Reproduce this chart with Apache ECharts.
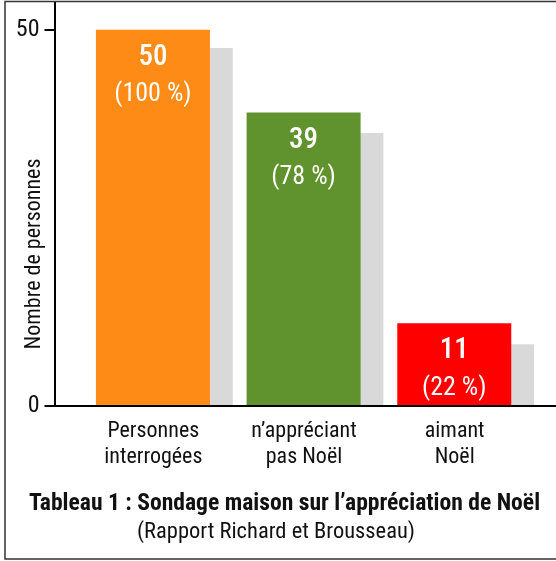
<!DOCTYPE html>
<html>
<head>
<meta charset="utf-8">
<script src="https://cdn.jsdelivr.net/npm/echarts@6/dist/echarts.min.js"></script>
<style>
  html, body { margin: 0; padding: 0; background: #fff; }
  #chart { width: 556px; height: 561px; }
</style>
</head>
<body>
<div id="chart"></div>
<script>
// valeurs
const categories = ['Personnes\ninterrogées', 'n\u2019appréciant\npas Noël', 'aimant\nNoël'];
const counts = [50, 39, 11];
const percents = [100, 78, 22];
const shadowValues = [47.6, 36.3, 8.2];
const yTicks = [0, 50];
const barColors = ['#fd8b16', '#60922d', '#ff0000'];

const FONT = "'Roboto Condensed', 'Liberation Sans', sans-serif";
const Y_MAX = 53.7;

let chart = echarts.init(document.getElementById('chart'));

chart.setOption({
  animation: false,
  textStyle: { fontFamily: FONT, color: '#111' },
  title: [
    {
      text: 'Tableau 1 : Sondage maison sur l\u2019appréciation de Noël',
      left: 284.5, top: 492, padding: 0, textAlign: 'center',
      textStyle: { fontFamily: FONT, fontSize: 23.6, fontWeight: 'bold', color: '#111' }
    },
    {
      text: '(Rapport Richard et Brousseau)',
      left: 276, top: 521, padding: 0, textAlign: 'center',
      textStyle: { fontFamily: FONT, fontSize: 22.5, fontWeight: 'normal', color: '#111' }
    }
  ],
  graphic: [
    {
      type: 'rect', z: 100, silent: true,
      shape: { x: 5, y: 1.5, width: 600, height: 557.5 },
      style: { fill: 'none', stroke: '#333', lineWidth: 1.5 }
    }
  ],
  grid: [
    // barres
    { left: 89, width: 452, top: 2, bottom: 155, outerBoundsMode: 'none', containLabel: false },
    // cadre des axes
    { left: 54.5, right: 0, top: 2, bottom: 155, outerBoundsMode: 'none', containLabel: false }
  ],
  xAxis: [
    {
      type: 'category', gridIndex: 0, data: categories,
      axisLine: { show: false }, axisTick: { show: false },
      axisLabel: {
        interval: 0, margin: 12, fontSize: 22, lineHeight: 26, color: '#111',
        fontFamily: FONT, padding: [0, 22, 0, 0]
      }
    },
    {
      type: 'value', gridIndex: 1, min: 0, max: 1, z: 5,
      axisLine: { show: true, lineStyle: { color: '#000', width: 2 } },
      axisTick: { show: false }, axisLabel: { show: false }, splitLine: { show: false }
    }
  ],
  yAxis: [
    {
      type: 'value', gridIndex: 0, min: 0, max: Y_MAX, show: false,
      splitLine: { show: false }
    },
    {
      type: 'value', gridIndex: 1, min: 0, max: Y_MAX, z: 5,
      name: 'Nombre de personnes', nameLocation: 'middle', nameGap: 9, nameMoveOverlap: false,
      nameTextStyle: { fontSize: 22, color: '#111', fontFamily: FONT, padding: [0, 100, 0, 0] },
      axisLine: { show: true, lineStyle: { color: '#000', width: 2 } },
      axisTick: { show: true, length: 10, customValues: yTicks, lineStyle: { color: '#000', width: 2 } },
      axisLabel: { margin: 15, fontSize: 24, color: '#111', fontFamily: FONT, customValues: yTicks },
      splitLine: { show: false }
    }
  ],
  series: [
    {
      name: 'nombre',
      type: 'bar', xAxisIndex: 0, yAxisIndex: 0,
      barWidth: 114, barGap: '-80%', z: 3,
      data: counts.map((v, i) => ({ value: v, itemStyle: { color: barColors[i] } })),
      label: {
        show: true, position: 'insideTop', distance: 10,
        formatter: p => '{v|' + counts[p.dataIndex] + '}\n{p|(' + percents[p.dataIndex] + ' %)}',
        rich: {
          v: { fontSize: 29, fontWeight: 500, lineHeight: 36, color: '#fff', fontFamily: FONT },
          p: { fontSize: 26, lineHeight: 38, color: '#fff', fontFamily: FONT }
        }
      }
    },
    {
      name: 'ombre',
      type: 'bar', xAxisIndex: 0, yAxisIndex: 0,
      barWidth: 114, z: 2, silent: true,
      itemStyle: { color: '#d9d9d9' },
      data: shadowValues
    }
  ]
});
</script>
</body>
</html>
